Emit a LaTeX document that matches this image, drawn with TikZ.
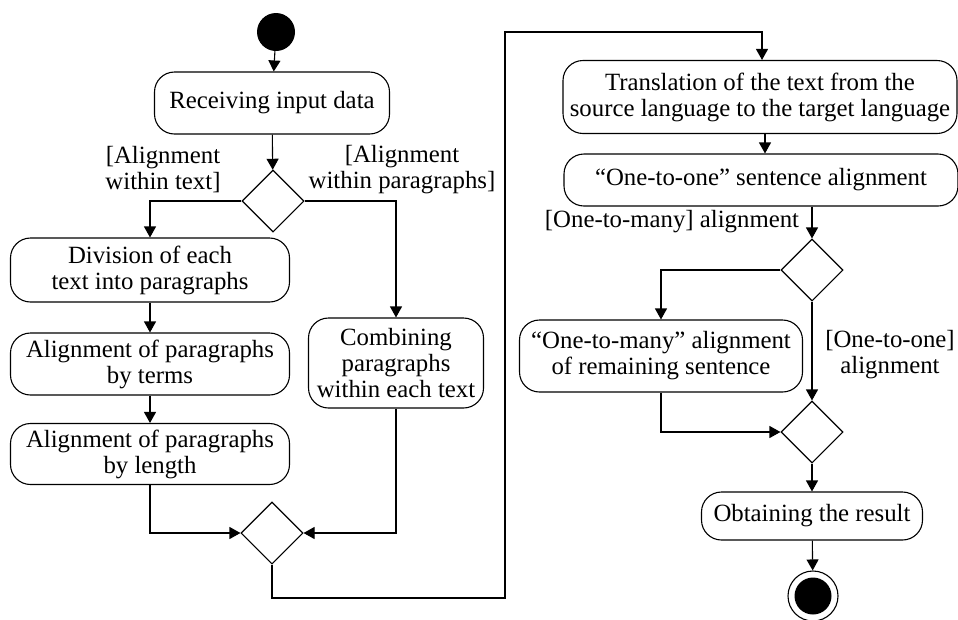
\documentclass[tikz,border=0pt]{standalone}
\usepackage{fontspec}
\setmainfont{Liberation Serif}
\usetikzlibrary{shapes.geometric,arrows.meta}
\tikzset{
  every node/.style={font=\fontsize{24.8}{26}\selectfont},
  act/.style={draw, line width=1.1pt, rounded corners=20pt, inner sep=0pt, align=center},
  dec/.style={draw, line width=1.1pt, diamond, aspect=1, minimum width=62pt, minimum height=62pt, inner sep=0pt},
  lbl/.style={align=center, inner sep=0pt},
  arr/.style={line width=1.1pt, -{Triangle[length=11pt,width=12pt]}},
  ln/.style={line width=1.1pt}
}
\begin{document}
\begin{tikzpicture}[x=1pt,y=-1pt]
\useasboundingbox (0,0) rectangle (958,619);
\clip (0,0) rectangle (958,619);
% start / end
\node[circle, fill=black, minimum size=38pt, inner sep=0pt] (start) at (276,32) {};
\node[circle, draw, line width=1.1pt, minimum size=50pt, inner sep=0pt] (end) at (813,596) {};
\fill (end.center) circle (18.5pt);
% activities
\node[act, minimum width=235pt, minimum height=62pt] (recv) at (272,103) {Receiving input data};
\node[act, minimum width=279pt, minimum height=64pt] (div) at (150,270) {Division of each\\text into paragraphs};
\node[act, minimum width=279pt, minimum height=62pt] (terms) at (150,364) {Alignment of paragraphs\\by terms};
\node[act, minimum width=279pt, minimum height=61pt] (len) at (150,454) {Alignment of paragraphs\\by length};
\node[act, minimum width=175pt, minimum height=90pt] (comb) at (396,363) {Combining\\paragraphs\\within each text};
\node[act, minimum width=394pt, minimum height=73pt] (trans) at (760,97) {Translation of the text from the\\source language to the target language};
\node[act, minimum width=394pt, minimum height=52pt] (one) at (761,180) {“One-to-one” sentence alignment};
\node[act, minimum width=283pt, minimum height=72pt] (many) at (661,356) {“One-to-many” alignment\\of remaining sentence};
\node[act, minimum width=221pt, minimum height=48pt] (obt) at (812,516) {Obtaining the result};
% decisions
\node[dec] (d1) at (273,201) {};
\node[dec] (d2) at (272,533) {};
\node[dec] (d3) at (812,270) {};
\node[dec] (d4) at (812,432) {};
% labels
\node[lbl] (l1) at (163,170) {[Alignment\\within text]};
\node[lbl] (l2) at (402,170) {[Alignment\\within paragraphs]};
\node[lbl] (l3) at (672,222) {[One-to-many] alignment};
\node[lbl] (l4) at (890,355) {[One-to-one]\\alignment};
% loop coordinates
\coordinate (c1) at (272,598);
\coordinate (c2) at (505,598);
\coordinate (c3) at (505,32);
\coordinate (c4) at (762,32);
% connectors
\draw[arr] (start) -- (recv);
\draw[arr] (recv) -- (d1);
\draw[arr] (d1.west) -| (div.north);
\draw[arr] (d1.east) -| (comb.north);
\draw[arr] (div) -- (terms);
\draw[arr] (terms) -- (len);
\draw[arr] (len.south) |- (d2.west);
\draw[arr] (comb.south) |- (d2.east);
\draw[arr] (d2.south) -- (c1) -- (c2) -- (c3) -- (c4) -- (c4 |- trans.north);
\draw[arr] (trans.south -| 765,0) -- (one.north -| 765,0);
\draw[arr] (one.south -| d3.north) -- (d3.north);
\draw[arr] (d3.west) -| (many.north);
\draw[arr] (d3.south) -- (d4.north);
\draw[arr] (many.south) |- (d4.west);
\draw[arr] (d4) -- (obt);
\draw[arr] (obt) -- (end);
\end{tikzpicture}
\end{document}
